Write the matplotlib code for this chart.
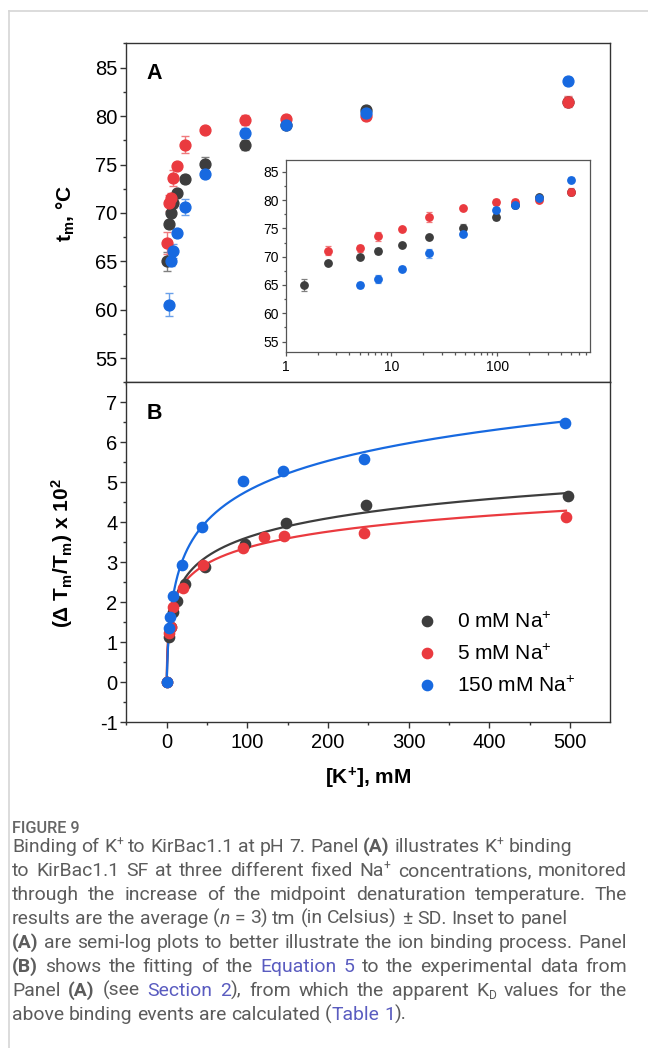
import re
import numpy as np
import matplotlib
matplotlib.use('Agg')
import matplotlib.pyplot as plt
from matplotlib.lines import Line2D
from matplotlib.ticker import MultipleLocator, FixedLocator, NullFormatter, LogLocator

# ---------------- data ----------------
# Panel A: tm (deg C) vs [K+] (mM)
conc_A = [0, 2.5, 5, 7.5, 12.5, 22.5, 47.5, 97.5, 147.5, 247.5, 497.5]
tm_0Na = [65.0, 68.85, 69.97, 71.05, 72.04, 73.5, 75.04, 77.05, 79.1, 80.6, 81.5]
sd_0Na = [1.0, 0.4, 0.4, 0.5, 0.3, 0.4, 0.7, 0.5, 0.4, 0.4, 0.5]
tm_5Na = [66.9, 71.03, 71.5, 73.6, 74.85, 77.05, 78.55, 79.62, 79.75, 80.03, 81.5]
sd_5Na = [1.1, 0.8, 0.6, 0.8, 0.3, 0.9, 0.3, 0.5, 0.4, 0.4, 0.6]
conc_A150 = [2.5, 5, 7.5, 12.5, 22.5, 47.5, 97.5, 147.5, 247.5, 497.5]
tm_150Na = [60.55, 65.05, 66.05, 67.9, 70.6, 74.0, 78.25, 79.1, 80.3, 83.65]
sd_150Na = [1.2, 0.5, 0.7, 0.4, 0.8, 0.4, 0.5, 0.4, 0.4, 0.4]
inset_ref_0Na = 1.5   # position of the 0 mM Na+ reference point in the semi-log inset

# Panel B: (dTm/Tm) x 10^2 vs [K+] (mM)
kB_0Na = [0, 2.5, 5, 7.5, 12.5, 22.5, 47.5, 97.5, 147.5, 247.5, 497.5]
dT_0Na = [0, 1.12, 1.38, 1.74, 2.03, 2.45, 2.88, 3.45, 3.97, 4.42, 4.65]
kB_5Na = [0, 2.5, 5, 7.5, 20, 45, 95, 120, 145, 245, 495]
dT_5Na = [0, 1.22, 1.37, 1.88, 2.34, 2.92, 3.34, 3.62, 3.65, 3.72, 4.13]
kB_150Na = [0, 2.5, 4, 8, 19, 44, 95, 144, 245, 494]
dT_150Na = [0, 1.34, 1.62, 2.14, 2.93, 3.87, 5.03, 5.28, 5.57, 6.47]
# fitted curves  y = a * ln(1 + [K+]/K)
fit_a = [0.694, 0.578, 1.0965]
fit_K = [0.55, 0.30, 1.30]
fit_xmax = 495

labels = ['0 mM Na$^{+}$', '5 mM Na$^{+}$', '150 mM Na$^{+}$']
colors = ['#3d3d3d', '#ea3a3f', '#1769e0']
ecolors = ['#808080', '#f07a7d', '#6aa0ea']

# ---------------- style ----------------
plt.rcParams['font.family'] = ['Liberation Sans', 'DejaVu Sans']
plt.rcParams['mathtext.fontset'] = 'custom'
plt.rcParams['mathtext.rm'] = 'Liberation Sans'
plt.rcParams['mathtext.it'] = 'Liberation Sans:italic'
plt.rcParams['mathtext.bf'] = 'Liberation Sans:bold'
plt.rcParams['axes.unicode_minus'] = False

W, H = 648, 1048
fig = plt.figure(figsize=(W / 100, H / 100), dpi=100)
fig.patch.set_facecolor('white')

def px_axes(l, t, r, b):
    return fig.add_axes([l / W, 1 - b / H, (r - l) / W, (b - t) / H])

axA = px_axes(126, 43, 610, 382)
axB = px_axes(126, 382, 610, 722)
axI = px_axes(285.7, 160, 590, 352.3)

spine_c = '#333333'
TICK_FS = 14.5

def style_axes(ax, show_xlabels=True, fs=TICK_FS, sc=spine_c, lw=1.0):
    for s in ax.spines.values():
        s.set_color(sc)
        s.set_linewidth(lw)
    ax.tick_params(which='both', direction='out', top=False, right=False, colors=sc,
                   labelcolor='black', labelsize=fs, width=lw)
    ax.tick_params(which='major', length=4.2, pad=2)
    ax.tick_params(which='minor', length=2.4)
    ax.tick_params(axis='x', labelbottom=show_xlabels, pad=4)

# ---------- Panel A ----------
series_A = [(conc_A, tm_0Na, sd_0Na), (conc_A, tm_5Na, sd_5Na), (conc_A150, tm_150Na, sd_150Na)]
for (x, y, e), c, ec in zip(series_A, colors, ecolors):
    axA.errorbar(x, y, yerr=e, fmt='o', ms=7.8, color=c, mec=c, ecolor=ec,
                 elinewidth=1.0, capsize=2.6, capthick=1.0, zorder=3)
axA.set_xlim(-50.5, 549.6)
axA.set_ylim(52.55, 87.55)
axA.xaxis.set_major_locator(MultipleLocator(100))
axA.xaxis.set_minor_locator(MultipleLocator(50))
axA.yaxis.set_major_locator(MultipleLocator(5))
axA.yaxis.set_minor_locator(MultipleLocator(2.5))
style_axes(axA, show_xlabels=False)
fig.text(154 / W, 1 - 73.5 / H, 'A', fontsize=15.5, fontweight='bold', ha='center', va='center')

# ---------- Inset ----------
inset_series = [
    ([inset_ref_0Na] + conc_A[1:], tm_0Na, sd_0Na),
    (conc_A[1:], tm_5Na[1:], sd_5Na[1:]),
    (conc_A150[1:], tm_150Na[1:], sd_150Na[1:]),
]
for (x, y, e), c, ec in zip(inset_series, colors, ecolors):
    axI.errorbar(x, y, yerr=e, fmt='o', ms=5.3, color=c, mec=c, ecolor=ec,
                 elinewidth=0.9, capsize=2.0, capthick=0.9, zorder=3)
axI.set_xscale('log')
axI.set_xlim(1, 757)
axI.set_ylim(53.1, 87.1)
axI.xaxis.set_major_locator(FixedLocator([1, 10, 100]))
axI.xaxis.set_minor_locator(LogLocator(base=10, subs=np.arange(2, 10)))
axI.xaxis.set_minor_formatter(NullFormatter())
axI.set_xticklabels(['1', '10', '100'])
axI.yaxis.set_major_locator(MultipleLocator(5))
axI.yaxis.set_minor_locator(MultipleLocator(2.5))
style_axes(axI, fs=10, sc='#555555', lw=0.9)
axI.tick_params(which='major', length=3.2, pad=1.5)
axI.tick_params(which='minor', length=1.8)
axI.tick_params(axis='x', pad=2)

# ---------- Panel B ----------
series_B = [(kB_0Na, dT_0Na), (kB_5Na, dT_5Na), (kB_150Na, dT_150Na)]
handles = []
for (x, y), a, K, c, lab in zip(series_B, fit_a, fit_K, colors, labels):
    xf = np.concatenate([[0], np.geomspace(0.01, fit_xmax, 600)])
    axB.plot(xf, a * np.log1p(xf / K), color=c, lw=1.6, zorder=2)
    h, = axB.plot(x, y, 'o', ms=7.4, color=c, mec=c, zorder=3, label=lab)
    handles.append(h)
axB.set_xlim(-50.5, 549.6)
axB.set_ylim(-1.0, 7.5)
axB.xaxis.set_major_locator(MultipleLocator(100))
axB.xaxis.set_minor_locator(MultipleLocator(50))
axB.yaxis.set_major_locator(MultipleLocator(1))
axB.yaxis.set_minor_locator(MultipleLocator(0.5))
style_axes(axB)
axB.legend(handles=handles, loc='upper left', bbox_to_anchor=(0.6004, 0.323),
           frameon=False, fontsize=15, borderpad=0, borderaxespad=0,
           handlelength=1.0, handletextpad=0.95, labelspacing=0.56, markerscale=1.0)
fig.text(154 / W, 1 - 413.5 / H, 'B', fontsize=15.5, fontweight='bold', ha='center', va='center')

# axis labels
fig.text(66 / W, 1 - 213 / H, 't$_{\\mathbf{m}}$, °C', rotation=90, fontsize=15,
         fontweight='bold', ha='center', va='center')
fig.text(62 / W, 1 - 553 / H, '(Δ T$_{\\mathbf{m}}$/T$_{\\mathbf{m}}$) x 10$^{\\mathbf{2}}$',
         rotation=90, fontsize=15, fontweight='bold', ha='center', va='center')
fig.text(368 / W, 1 - 778 / H, '[K$^{\\mathbf{+}}$], mM', fontsize=15, fontweight='bold',
         ha='center', va='center')

# card border
fig.add_artist(Line2D([9 / W, 1], [1 - 11 / H, 1 - 11 / H], color='#d6d6d6', lw=1.2,
                      transform=fig.transFigure))
fig.add_artist(Line2D([9 / W, 9 / W], [1 - 11 / H, 0], color='#d6d6d6', lw=1.2,
                      transform=fig.transFigure))

# ---------------- caption ----------------
cap_font = ['Roboto', 'DejaVu Sans']
text_col = '#5c5c5c'
link_col = '#5a5cc0'
renderer = fig.canvas.get_renderer()

def measure(s, **kw):
    t = fig.text(0, 0, s, **kw)
    w = t.get_window_extent(renderer).width
    t.remove()
    return w

caption_lines = [
    ("Binding of K[^+] to KirBac1.1 at pH 7. Panel [b:(A)] illustrates K[^+] binding", False),
    ("to KirBac1.1 SF at three different fixed Na[^+] concentrations, monitored", True),
    ("through the increase of the midpoint denaturation temperature. The", True),
    ("results are the average ([i:n] = 3) tm (in Celsius) ± SD. Inset to panel", False),
    ("[b:(A)] are semi-log plots to better illustrate the ion binding process. Panel", True),
    ("[b:(B)] shows the fitting of the [l:Equation] [l:5] to the experimental data from", True),
    ("Panel [b:(A)] (see [l:Section] [l:2]), from which the apparent K[_D] values for the", True),
    ("above binding events are calculated ([l:Table] [l:1]).", False),
]
tok = re.compile(r'\[(b|i|l|\^|_):?([^\]]*)\]|([^\[]+)')

def pieces(word, fs):
    out = []
    for m in tok.finditer(word):
        kind, inner, plain = m.group(1), m.group(2), m.group(3)
        kw = dict(family=cap_font, fontsize=fs, color=text_col)
        dy = 0.0
        if plain is not None:
            s = plain
        else:
            s = inner
            if kind == 'b':
                kw['fontweight'] = 'bold'
            elif kind == 'i':
                kw['fontstyle'] = 'italic'
            elif kind == 'l':
                kw['color'] = link_col
            elif kind == '^':
                kw['fontsize'] = fs * 0.62
                dy = 0.30 * fs / 0.72
            elif kind == '_':
                kw['fontsize'] = fs * 0.62
                dy = -0.14 * fs / 0.72
        out.append((s, kw, dy))
    return out

def plain_text(line):
    return tok.sub(lambda m: m.group(2) if m.group(1) else m.group(3), line)

# calibrate font size on the first line's natural width (~566 px)
fs0 = 10
w0 = measure(plain_text(caption_lines[0][0]), family=cap_font, fontsize=fs0)
CAP_FS = fs0 * 566.0 / w0
space_w = (measure('a a', family=cap_font, fontsize=CAP_FS)
           - measure('aa', family=cap_font, fontsize=CAP_FS))

x_left, x_right = 12.0, 627.0
for i, (line, just) in enumerate(caption_lines):
    base = 852.0 + 24.0 * i
    words = line.split(' ')
    wp = [pieces(w, CAP_FS) for w in words]
    ww = [sum(measure(s, **kw) for s, kw, _ in p) for p in wp]
    gap = space_w
    if just and len(words) > 1:
        gap = (x_right - x_left - sum(ww)) / (len(words) - 1)
    x = x_left
    for p, w in zip(wp, ww):
        xx = x
        for s, kw, dy in p:
            fig.text(xx / W, 1 - (base - dy) / H, s, ha='left', va='baseline', **kw)
            xx += measure(s, **kw)
        x += w + gap

fig.text(12 / W, 1 - 833 / H, 'FIGURE 9', family=cap_font, fontsize=CAP_FS * 0.84,
         fontweight='medium', color='#666666', ha='left', va='baseline')

fig.savefig('out.png', dpi=100, facecolor='white')
